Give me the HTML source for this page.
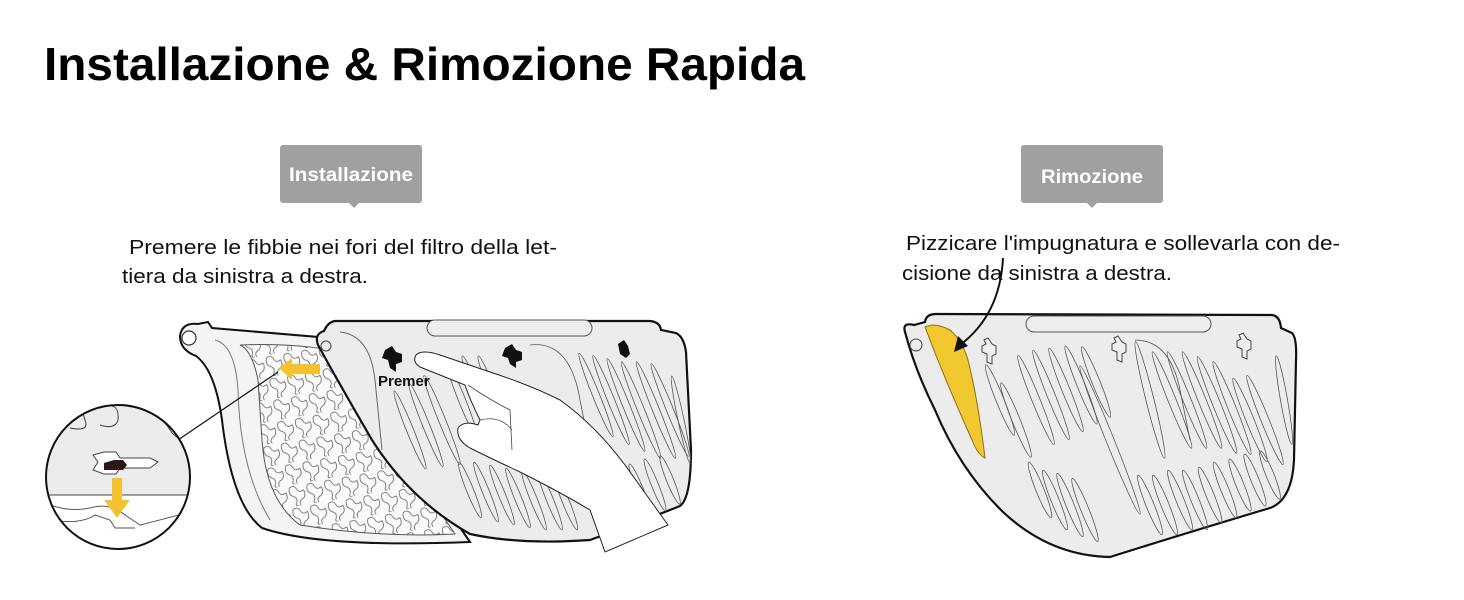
<!DOCTYPE html>
<html><head><meta charset="utf-8"><style>
html,body{margin:0;padding:0;background:#fff;}
body{width:1464px;height:600px;overflow:hidden;position:relative;font-family:"Liberation Sans",sans-serif;}
svg{position:absolute;left:0;top:0;}
</style></head><body>
<svg width="1464" height="600" viewBox="0 0 1464 600" xmlns="http://www.w3.org/2000/svg">
<defs>
  <pattern id="mesh" width="18" height="22" patternUnits="userSpaceOnUse" patternTransform="rotate(-10)">
    <rect width="18" height="22" fill="#fafafa"/>
    <path d="M2,3 Q7,0 9,5 Q11,10 16,7 M2,3 Q0,10 5,12 Q9,14 7,19 Q5,22 9,22 M16,7 Q18,14 13,16 Q9,18 11,22" fill="none" stroke="#666" stroke-width="0.8"/>
  </pattern>
  <clipPath id="circ"><circle cx="118" cy="477" r="72"/></clipPath>
  <g id="keyR">
    <path d="M-6,-10 L-2,-12 L2,-6 L6,-4 L6,4 L2,6 L2,14 L-3,12 L-3,4 L-8,2 L-8,-4 L-4,-6 Z" fill="#eee" stroke="#444" stroke-width="1"/>
  </g>
</defs>

<text x="44" y="80" font-size="46" font-weight="bold" fill="#000" textLength="761" lengthAdjust="spacingAndGlyphs">Installazione &amp; Rimozione Rapida</text>

<rect x="280" y="145" width="142" height="58" rx="3" fill="#a0a0a0"/>
<path d="M349,203 L354,208 L359,203 Z" fill="#a0a0a0"/>
<text x="351" y="181" font-size="19" font-weight="bold" fill="#fff" text-anchor="middle" textLength="124" lengthAdjust="spacingAndGlyphs">Installazione</text>

<rect x="1021" y="145" width="142" height="58" rx="3" fill="#a0a0a0"/>
<path d="M1087,203 L1092,208 L1097,203 Z" fill="#a0a0a0"/>
<text x="1092" y="183" font-size="19" font-weight="bold" fill="#fff" text-anchor="middle" textLength="102" lengthAdjust="spacingAndGlyphs">Rimozione</text>

<g font-size="20" fill="#111">
<text x="129" y="254" textLength="428" lengthAdjust="spacingAndGlyphs">Premere le fibbie nei fori del filtro della let-</text>
<text x="122" y="283" textLength="246" lengthAdjust="spacingAndGlyphs">tiera da sinistra a destra.</text>
<text x="906" y="250" textLength="434" lengthAdjust="spacingAndGlyphs">Pizzicare l'impugnatura e sollevarla con de-</text>
<text x="902" y="280" textLength="270" lengthAdjust="spacingAndGlyphs">cisione da sinistra a destra.</text>
</g>

<!-- LEFT -->
<path d="M180,336 Q182,322 198,324 L208,322 L212,328 L330,338 L470,542 Q320,548 262,528 Q232,505 222,420 Q215,370 196,356 Q180,350 180,336 Z" fill="#f4f4f4" stroke="#111" stroke-width="2"/>
<circle cx="189" cy="338" r="7" fill="#fff" stroke="#333" stroke-width="1.2"/>
<path d="M240,345 Q252,350 258,380 L262,440 Q266,500 300,525 Q380,538 455,534 L330,350 Q290,343 240,345 Z" fill="url(#mesh)" stroke="#555" stroke-width="1"/>
<path d="M215,340 Q235,345 238,390 Q240,470 270,520" fill="none" stroke="#777" stroke-width="1"/>

<path d="M335,321 L650,321 Q660,322 661,330 L676,333 Q684,337 686,352 L691,450 Q691,498 680,506 Q640,522 590,540 Q520,545 470,534 Q410,500 372,440 Q340,385 318,345 Q314,334 324,331 Q328,322 335,321 Z" fill="#ececec" stroke="#111" stroke-width="2.2"/>
<circle cx="326" cy="346" r="5" fill="none" stroke="#444" stroke-width="1"/>
<rect x="427" y="320" width="165" height="16" rx="8" fill="#eee" stroke="#555" stroke-width="1"/>
<path d="M340,332 Q370,335 375,380 L382,450" fill="none" stroke="#666" stroke-width="1"/>
<g fill="none" stroke="#555" stroke-width="0.8">
  <ellipse cx="410" cy="430" rx="3.5" ry="42" transform="rotate(-22 410 430)"/>
  <ellipse cx="426" cy="425" rx="3.5" ry="45" transform="rotate(-22 426 425)"/>
  <ellipse cx="442" cy="420" rx="3.5" ry="48" transform="rotate(-22 442 420)"/>
  <ellipse cx="462" cy="400" rx="3.5" ry="40" transform="rotate(-22 462 400)"/>
  <ellipse cx="478" cy="395" rx="3.5" ry="42" transform="rotate(-22 478 395)"/>
  <ellipse cx="494" cy="395" rx="3.5" ry="42" transform="rotate(-22 494 395)"/>
  <ellipse cx="470" cy="490" rx="3.5" ry="30" transform="rotate(-22 470 490)"/>
  <ellipse cx="486" cy="492" rx="3.5" ry="32" transform="rotate(-22 486 492)"/>
  <ellipse cx="502" cy="495" rx="3.5" ry="32" transform="rotate(-22 502 495)"/>
  <ellipse cx="518" cy="498" rx="3.5" ry="32" transform="rotate(-22 518 498)"/>
  <ellipse cx="534" cy="500" rx="3.5" ry="32" transform="rotate(-22 534 500)"/>
  <ellipse cx="550" cy="500" rx="3.5" ry="32" transform="rotate(-22 550 500)"/>
  <ellipse cx="566" cy="502" rx="3.5" ry="30" transform="rotate(-22 566 502)"/>
  <ellipse cx="596" cy="395" rx="3.5" ry="45" transform="rotate(-22 596 395)"/>
  <ellipse cx="611" cy="400" rx="3.5" ry="48" transform="rotate(-22 611 400)"/>
  <ellipse cx="626" cy="405" rx="3.5" ry="50" transform="rotate(-22 626 405)"/>
  <ellipse cx="641" cy="410" rx="3.5" ry="52" transform="rotate(-22 641 410)"/>
  <ellipse cx="656" cy="410" rx="3.5" ry="52" transform="rotate(-22 656 410)"/>
  <ellipse cx="670" cy="410" rx="3.5" ry="50" transform="rotate(-22 670 410)"/>
  <ellipse cx="681" cy="420" rx="3" ry="45" transform="rotate(-12 681 420)"/>
  <ellipse cx="640" cy="490" rx="3.5" ry="28" transform="rotate(-22 640 490)"/>
  <ellipse cx="655" cy="485" rx="3.5" ry="28" transform="rotate(-22 655 485)"/>
  <ellipse cx="670" cy="480" rx="3.5" ry="26" transform="rotate(-22 670 480)"/>
  <path d="M530,345 Q570,340 580,400 L600,500"/>
</g>
<g fill="#111">
  <path d="M385,350 L392,346 L396,352 L402,354 L402,362 L396,364 L396,372 L390,368 L388,360 L382,358 Z"/>
  <path d="M505,348 L512,344 L516,350 L522,352 L522,360 L516,362 L516,368 L510,364 L508,358 L502,356 Z"/>
  <path d="M618,344 L624,340 L628,346 L630,354 L626,358 L620,354 Z"/>
</g>
<text x="378" y="386" font-size="15" font-weight="bold" fill="#111">Premer</text>

<path d="M416,355 Q422,349 440,355 L490,372 Q530,385 560,400 Q595,425 625,465 L668,525 L605,552 L590,510 Q560,492 520,472 Q490,458 470,448 Q456,440 458,428 Q464,420 478,425 L480,420 Q470,400 465,385 Q440,375 420,367 Q412,362 416,355 Z" fill="#fff" stroke="#222" stroke-width="1"/>
<path d="M468,385 Q490,400 510,410 L512,450 M480,420 Q500,415 512,430" fill="none" stroke="#444" stroke-width="0.8"/>

<path d="M279,368 L292,358 L292,364 L320,364 L320,374 L292,374 L292,380 Z" fill="#f2c230"/>
<line x1="278" y1="372" x2="178" y2="440" stroke="#111" stroke-width="1.2"/>

<g clip-path="url(#circ)">
  <rect x="40" y="400" width="160" height="95" fill="#ececec"/>
  <rect x="40" y="495" width="160" height="60" fill="#fff"/>
  <line x1="40" y1="495" x2="200" y2="495" stroke="#444" stroke-width="1"/>
  <path d="M60,410 Q80,400 85,420 Q90,432 70,428 M100,408 Q120,400 118,420 Q115,430 100,425 M130,405 Q160,412 170,430 Q180,445 200,440" fill="none" stroke="#444" stroke-width="1"/>
  <path d="M50,505 Q70,512 90,508 Q110,502 125,515 L140,525 Q160,520 190,512 M50,520 Q80,525 95,515 L110,520 L115,528 L135,528" fill="none" stroke="#555" stroke-width="1"/>
  <path d="M93,455 L104,452 L116,452 L120,458 L150,458 L158,462 L150,468 L120,468 L116,474 L104,474 L93,470 L98,462 Z" fill="#fff" stroke="#444" stroke-width="1"/>
  <path d="M104,463 L114,460 L123,460 L127,465 L123,470 L104,470 Z" fill="#2a1a12"/>
  <path d="M112,478 L122,478 L122,500 L130,500 L117,518 L104,500 L112,500 Z" fill="#f2c230"/>
</g>
<circle cx="118" cy="477" r="72" fill="none" stroke="#111" stroke-width="2"/>

<!-- RIGHT -->
<path d="M905,332 Q902,322 914,325 L925,322 Q926,314 936,314 L1272,315 Q1280,316 1281,328 L1292,333 Q1297,338 1296,360 L1294,460 Q1292,500 1270,508 Q1180,535 1110,557 Q1050,556 1003,512 Q960,470 935,410 Q915,370 905,332 Z" fill="#ececec" stroke="#111" stroke-width="2.2"/>
<circle cx="916" cy="345" r="6" fill="none" stroke="#444" stroke-width="1"/>
<rect x="1026" y="316" width="185" height="16" rx="8" fill="#eee" stroke="#555" stroke-width="1"/>
<path d="M925,327 Q935,322 950,330 Q962,340 968,360 Q978,400 985,458 Q978,455 972,440 Q945,380 925,327 Z" fill="#f2c830" stroke="#8a7010" stroke-width="1"/>
<g transform="translate(990,350)"><use href="#keyR"/></g>
<g transform="translate(1120,348)"><use href="#keyR"/></g>
<g transform="translate(1245,345)"><use href="#keyR"/></g>
<g fill="none" stroke="#555" stroke-width="0.8">
  <ellipse cx="1000" cy="400" rx="4" ry="38" transform="rotate(-22 1000 400)"/>
  <ellipse cx="1016" cy="420" rx="4" ry="40" transform="rotate(-22 1016 420)"/>
  <ellipse cx="1036" cy="400" rx="4" ry="48" transform="rotate(-22 1036 400)"/>
  <ellipse cx="1051" cy="395" rx="4" ry="48" transform="rotate(-22 1051 395)"/>
  <ellipse cx="1066" cy="390" rx="4" ry="45" transform="rotate(-22 1066 390)"/>
  <ellipse cx="1081" cy="385" rx="4" ry="42" transform="rotate(-22 1081 385)"/>
  <ellipse cx="1096" cy="382" rx="4" ry="38" transform="rotate(-22 1096 382)"/>
  <ellipse cx="1110" cy="440" rx="4" ry="80" transform="rotate(-22 1110 440)"/>
  <ellipse cx="1150" cy="400" rx="4" ry="60" transform="rotate(-14 1150 400)"/>
  <ellipse cx="1172" cy="400" rx="4" ry="52" transform="rotate(-22 1172 400)"/>
  <ellipse cx="1187" cy="400" rx="4" ry="52" transform="rotate(-22 1187 400)"/>
  <ellipse cx="1202" cy="400" rx="4" ry="52" transform="rotate(-22 1202 400)"/>
  <ellipse cx="1217" cy="405" rx="4" ry="52" transform="rotate(-22 1217 405)"/>
  <ellipse cx="1232" cy="408" rx="4" ry="50" transform="rotate(-22 1232 408)"/>
  <ellipse cx="1250" cy="420" rx="4" ry="45" transform="rotate(-22 1250 420)"/>
  <ellipse cx="1265" cy="420" rx="4" ry="48" transform="rotate(-22 1265 420)"/>
  <ellipse cx="1284" cy="400" rx="3.5" ry="45" transform="rotate(-10 1284 400)"/>
  <ellipse cx="1040" cy="490" rx="4" ry="30" transform="rotate(-22 1040 490)"/>
  <ellipse cx="1055" cy="500" rx="4" ry="32" transform="rotate(-22 1055 500)"/>
  <ellipse cx="1070" cy="505" rx="4" ry="34" transform="rotate(-22 1070 505)"/>
  <ellipse cx="1085" cy="510" rx="4" ry="34" transform="rotate(-22 1085 510)"/>
  <ellipse cx="1150" cy="505" rx="4" ry="32" transform="rotate(-22 1150 505)"/>
  <ellipse cx="1165" cy="505" rx="4" ry="32" transform="rotate(-22 1165 505)"/>
  <ellipse cx="1180" cy="500" rx="4" ry="32" transform="rotate(-22 1180 500)"/>
  <ellipse cx="1195" cy="500" rx="4" ry="32" transform="rotate(-22 1195 500)"/>
  <ellipse cx="1210" cy="495" rx="4" ry="30" transform="rotate(-22 1210 495)"/>
  <ellipse cx="1225" cy="490" rx="4" ry="30" transform="rotate(-22 1225 490)"/>
  <ellipse cx="1240" cy="485" rx="4" ry="28" transform="rotate(-22 1240 485)"/>
  <ellipse cx="1255" cy="480" rx="4" ry="28" transform="rotate(-22 1255 480)"/>
  <ellipse cx="1270" cy="475" rx="4" ry="26" transform="rotate(-22 1270 475)"/>
  <path d="M1135,340 Q1170,340 1180,390 L1190,440"/>
</g>
<path d="M1003,258 Q1000,315 960,345" fill="none" stroke="#111" stroke-width="2"/>
<path d="M954,352 L958,336 L968,346 Z" fill="#111"/>
</svg>
</body></html>
